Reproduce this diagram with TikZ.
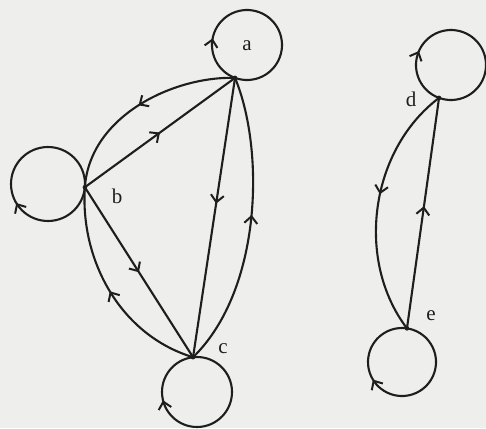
\documentclass[tikz,border=0pt]{standalone}
\usetikzlibrary{decorations.markings,arrows.meta}
\usepackage{fontspec}
\setmainfont{Liberation Serif}
\definecolor{paper}{RGB}{238,238,236}
\definecolor{ink}{RGB}{30,30,30}
\begin{document}
\begin{tikzpicture}[x=1pt,y=-1pt,
  edge/.style={draw=ink,line width=2.1pt},
  midarrow/.style={postaction={decorate,decoration={markings,
     mark=at position #1 with {\arrow{Straight Barb[length=7pt,width=13pt,line width=2pt]}}}}},
  vtx/.style={circle,fill=ink,inner sep=1.6pt},
  lbl/.style={font=\fontsize{21}{25}\selectfont,text=ink,inner sep=0pt}]
\fill[paper] (0,0) rectangle (486,428);
\useasboundingbox (0,0) rectangle (486,428);
% vertices (on the loop circles)
\node[vtx] (a) at ({247+35*cos(110)},{45+35*sin(110)}) {};
\node[vtx] (b) at ({48+37*cos(5)},{184+37*sin(5)}) {};
\node[vtx] (c) at ({197+35*cos(263.5)},{392+35*sin(263.5)}) {};
\node[vtx] (d) at ({451+35*cos(110)},{65+35*sin(110)}) {};
\node[vtx] (e) at ({402+34*cos(278.4)},{362+34*sin(278.4)}) {};
% labels
\node[lbl] (la) at (247,46) {a};
\node[lbl] (lb) at (117,196) {b};
\node[lbl] (lc) at (223,349) {c};
\node[lbl] (ld) at (411,99) {d};
\node[lbl] (le) at (431,316) {e};
% loops
\draw[edge,midarrow=0.225] (a.center) arc[start angle=110,delta angle=360,radius=35];
\draw[edge,midarrow=0.40] (b.center) arc[start angle=5,delta angle=360,radius=37];
\draw[edge,midarrow=0.73] (c.center) arc[start angle=263.5,delta angle=360,radius=35];
\draw[edge,midarrow=0.26] (d.center) arc[start angle=110,delta angle=360,radius=35];
\draw[edge,midarrow=0.64] (e.center) arc[start angle=278.4,delta angle=360,radius=34];
% edges of the left component
\draw[edge,midarrow=0.5] (a.center) .. controls (175,76) and (90,115) .. (b.center);
\draw[edge,midarrow=0.5] (b.center) -- (a.center);
\draw[edge,midarrow=0.5] (b.center) -- (c.center);
\draw[edge,midarrow=0.5] (c.center) .. controls (120,335) and (80,260) .. (b.center);
\draw[edge,midarrow=0.45] (a.center) -- (c.center);
\draw[edge,midarrow=0.53] (c.center) .. controls (262,290) and (265,150) .. (a.center);
% edges of the right component
\draw[edge,midarrow=0.45] (d.center) .. controls (370,150) and (355,260) .. (e.center);
\draw[edge,midarrow=0.53] (e.center) -- (d.center);
\end{tikzpicture}
\end{document}
